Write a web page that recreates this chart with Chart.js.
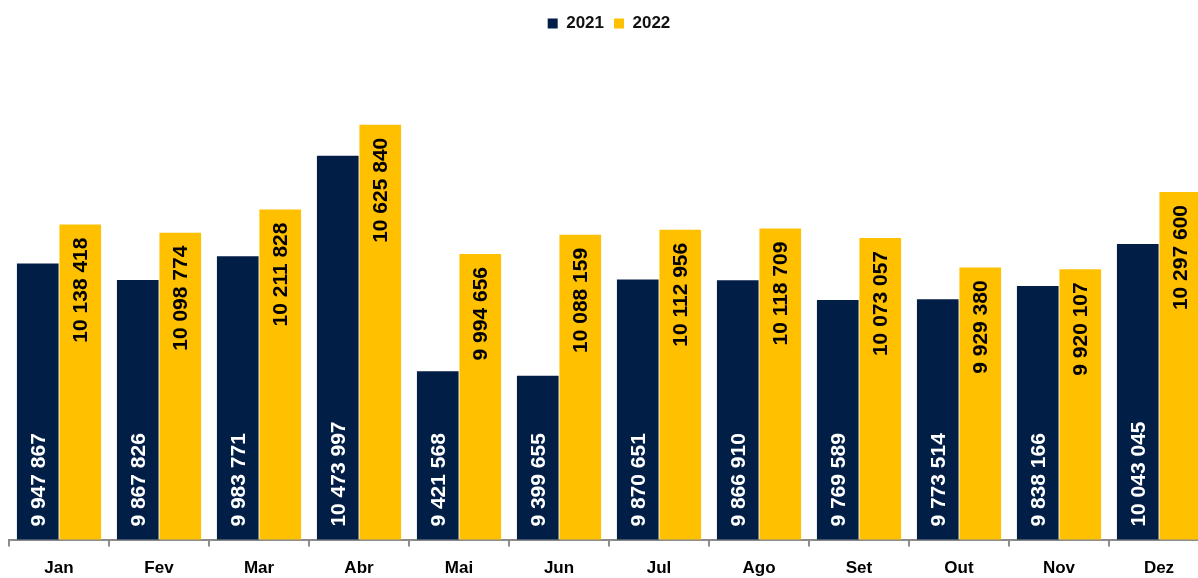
<!DOCTYPE html>
<html lang="pt">
<head>
<meta charset="utf-8">
<title>2021 / 2022</title>
<script src="https://cdn.jsdelivr.net/npm/chart.js@4/dist/chart.umd.min.js"></script>
<style>
  html, body { margin: 0; padding: 0; background: #fff; overflow: hidden; }
  #wrap { width: 1220px; height: 591px; position: relative; }
</style>
</head>
<body>
<div id="wrap"><canvas id="mesChart"></canvas></div>
<script>
// Meses e valores por ano
const meses = ['Jan', 'Fev', 'Mar', 'Abr', 'Mai', 'Jun', 'Jul', 'Ago', 'Set', 'Out', 'Nov', 'Dez'];
const valores2021 = [9947867, 9867826, 9983771, 10473997, 9421568, 9399655, 9870651, 9866910, 9769589, 9773514, 9838166, 10043045];
const valores2022 = [10138418, 10098774, 10211828, 10625840, 9994656, 10088159, 10112956, 10118709, 10073057, 9929380, 9920107, 10297600];

const corAzul = '#001E46';
const corAmarelo = '#FFC000';

// separador de milhar com espaço: 9 947 867
function formatar(v) {
    return String(v).replace(/\B(?=(\d{3})+(?!\d))/g, ' ');
}

// Rótulos verticais dentro das barras
const rotulosBarras = {
    id: 'rotulosBarras',
    afterDatasetsDraw(chart) {
        const ctx = chart.ctx;
        const fundo = chart.chartArea.bottom;
        ctx.save();
        ctx.font = 'bold 21px "Liberation Sans", Arial, sans-serif';
        ctx.textBaseline = 'middle';
        chart.data.datasets.forEach((ds, i) => {
            const meta = chart.getDatasetMeta(i);
            meta.data.forEach((bar, j) => {
                const txt = formatar(ds.data[j]);
                ctx.save();
                if (i === 0) {
                    // 2021: texto branco a partir da base
                    ctx.translate(bar.x, fundo - 13);
                    ctx.rotate(-Math.PI / 2);
                    ctx.textAlign = 'left';
                    ctx.fillStyle = '#ffffff';
                } else {
                    // 2022: texto preto junto ao topo
                    ctx.translate(bar.x, bar.y + 13);
                    ctx.rotate(-Math.PI / 2);
                    ctx.textAlign = 'right';
                    ctx.fillStyle = '#000000';
                }
                ctx.fillText(txt, 0, 1);
                ctx.restore();
            });
        });
        ctx.restore();
    }
};

const ctx = document.getElementById('mesChart').getContext('2d');
new Chart(ctx, {
    type: 'bar',
    data: {
        labels: meses,
        datasets: [
            {
                label: '2021',
                data: valores2021,
                backgroundColor: corAzul,
                categoryPercentage: 0.85,
                barPercentage: 0.98
            },
            {
                label: '2022',
                data: valores2022,
                backgroundColor: corAmarelo,
                categoryPercentage: 0.85,
                barPercentage: 0.98
            }
        ]
    },
    options: {
        responsive: true,
        maintainAspectRatio: false,
        animation: false,
        layout: {
            padding: { top: 5, left: 9, right: 11, bottom: 0 }
        },
        plugins: {
            legend: {
                position: 'top',
                align: 'center',
                labels: {
                    usePointStyle: true,
                    pointStyle: 'rect',
                    boxWidth: 10,
                    boxHeight: 10,
                    padding: 10,
                    color: '#111',
                    font: { family: '"Liberation Sans", Arial, sans-serif', size: 17, weight: 'bold' }
                }
            },
            tooltip: { enabled: false }
        },
        scales: {
            x: {
                border: { display: true, color: '#8c8c8c', width: 2 },
                grid: {
                    display: true,
                    drawOnChartArea: false,
                    drawTicks: true,
                    tickLength: 7,
                    color: '#8c8c8c',
                    lineWidth: 2
                },
                ticks: {
                    padding: 12,
                    color: '#000',
                    font: { family: '"Liberation Sans", Arial, sans-serif', size: 17, weight: 'bold' }
                }
            },
            y: {
                display: false,
                min: 8600000,
                max: 11030000
            }
        }
    },
    plugins: [rotulosBarras]
});
</script>
</body>
</html>
